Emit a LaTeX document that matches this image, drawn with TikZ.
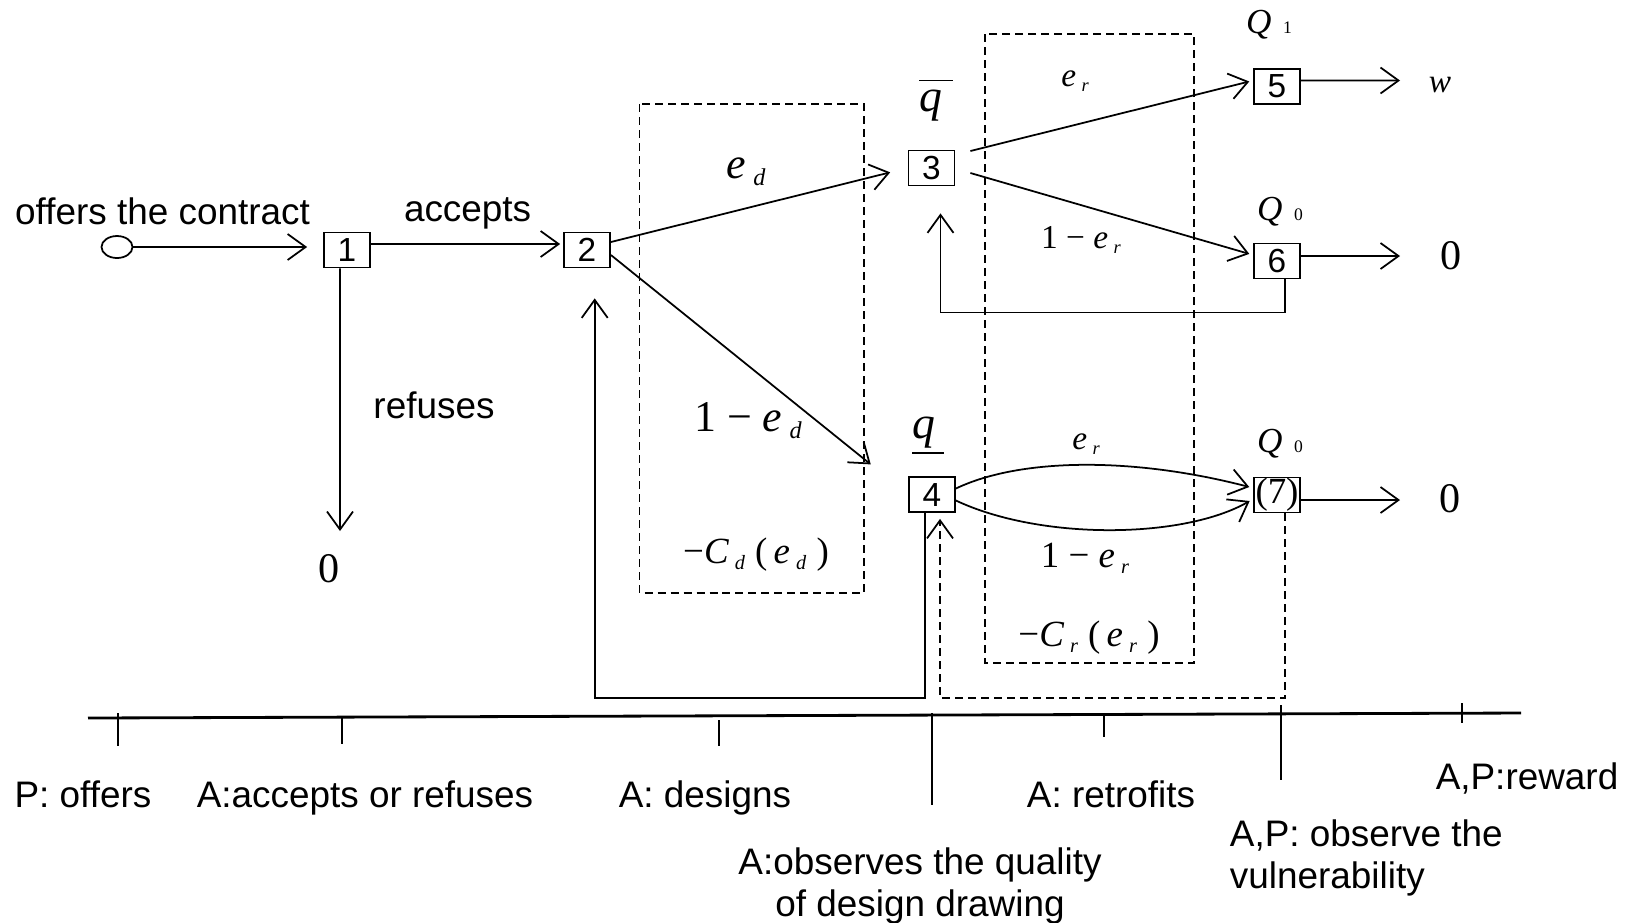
\documentclass[tikz,border=0pt]{standalone}
\usepackage{fontspec}
\setmainfont{Liberation Sans}
\newfontfamily\tms{Liberation Serif}
\usetikzlibrary{arrows.meta,shapes.geometric,positioning,calc}

\newcommand{\mi}[1]{{\tms\itshape #1}}
\newcommand{\up}[1]{{\tms #1}}
\newcommand{\lo}[1]{\raisebox{-0.3ex}{\scalebox{0.55}{#1}}}
\newcommand{\sm}[1]{\scalebox{0.5}{#1}}

\tikzset{
  stage/.style={draw, rectangle, minimum width=4.6mm, minimum height=3.5mm,
    inner sep=0pt, font=\fontsize{9.5}{9.5}\selectfont},
  lbl/.style={inner sep=0pt, font=\fontsize{10.5}{12}\selectfont},
  frm/.style={dash pattern=on 0.8mm off 0.5mm},
  >={Straight Barb[length=1.8mm,width=2.6mm]}
}

\begin{document}
\begin{tikzpicture}[x=0.1mm, y=-0.1mm, line width=0.5pt]
  \useasboundingbox (0,0) rectangle (1633,922);

  % stages
  \node[draw, ellipse, minimum width=3.1mm, minimum height=2.2mm, inner sep=0pt] (start) at (117,247) {};
  \node[stage] (n1) at (347,250) {1};
  \node[stage] (n2) at (587,250) {2};
  \node[stage] (n3) at (931.5,168) {3};
  \node[stage] (n4) at (932,494.5) {4};
  \node[stage] (n5) at (1277,86.5) {5};
  \node[stage] (n6) at (1277,261) {6};
  \node[stage, font=\tms\fontsize{10.5}{10.5}\selectfont] (n7) at (1277,495) {(7)};

  % effort frames
  \draw[frm] (639.5,104) rectangle (864,593);
  \draw[frm] (985,34) rectangle (1194,663);

  % labels
  \node[lbl, anchor=base] (offer) at (162.5,224) {offers the contract};
  \node[lbl, anchor=base] (acc) at (467.6,221) {accepts};
  \node[lbl, anchor=base] (ref) at (434,418) {refuses};
  \node[lbl, font=\tms\fontsize{12}{12}\selectfont] (z1) at (329,569) {0};
  \node[lbl, font=\fontsize{12.5}{14}\selectfont] (ed) at (746,172) {\mi{e}\,\lo{\mi{d}}};
  \node[lbl, font=\fontsize{12.5}{14}\selectfont] (ned) at (748,421) {\up{1 − }\mi{e}\,\lo{\mi{d}}};
  \node[lbl, font=\fontsize{10.5}{12}\selectfont] (cd) at (756,555)
    {\up{−}\mi{C}\,\lo{\mi{d}}\;\up{(}\,\mi{e}\,\lo{\mi{d}}\;\up{)}};
  \node[lbl, font=\fontsize{13}{14}\selectfont] (qh) at (936,100)
    {$\overline{\vphantom{t}\hbox{\mi{q}\kern3pt}}$};
  \node[lbl, font=\fontsize{13}{14}\selectfont] (ql) at (928,436)
    {$\underline{\hbox{\mi{q}\kern2.5pt}}$};
  \node[lbl, font=\fontsize{10}{10}\selectfont] (q1) at (1269,25) {\mi{Q}\,\,\sm{\up{1}}};
  \node[lbl, font=\fontsize{10}{10}\selectfont] (q0a) at (1280,212) {\mi{Q}\,\,\sm{\up{0}}};
  \node[lbl, font=\fontsize{10}{10}\selectfont] (q0b) at (1280,444) {\mi{Q}\,\,\sm{\up{0}}};
  \node[lbl, font=\fontsize{9.5}{10}\selectfont] (er1) at (1075,81) {\mi{e}\,\lo{\mi{r}}};
  \node[lbl, font=\fontsize{9.5}{10}\selectfont] (ner1) at (1081,240) {\up{1 − }\mi{e}\,\lo{\mi{r}}};
  \node[lbl, font=\fontsize{9.5}{10}\selectfont] (er2) at (1086,444) {\mi{e}\,\lo{\mi{r}}};
  \node[lbl, font=\fontsize{10.5}{12}\selectfont] (ner2) at (1085,558) {\up{1 − }\mi{e}\,\lo{\mi{r}}};
  \node[lbl, font=\fontsize{10.5}{12}\selectfont] (cr) at (1089,638)
    {\up{−}\mi{C}\,\lo{\mi{r}}\;\up{(}\,\mi{e}\,\lo{\mi{r}}\;\up{)}};
  \node[lbl, font=\fontsize{9.5}{10}\selectfont] (w) at (1440,85) {\mi{w}};
  \node[lbl, font=\tms\fontsize{12}{12}\selectfont] (z6) at (1451,256) {0};
  \node[lbl, font=\tms\fontsize{12}{12}\selectfont] (z7) at (1450,499) {0};

  \coordinate (r0) at (340,531);
  \coordinate (e5) at (1400,80.5);
  \coordinate (e6) at (1400,256);
  \coordinate (e7) at (1400,500);
  \coordinate (fb3) at (940.5,312.5);
  \coordinate (fb2) at (594.7,698);
  \coordinate (fb4) at (940,698);

  % moves
  \draw[->, shorten >=1.6mm] (start) -- (start -| n1.west);
  \draw[->, shorten >=0.3mm] ([yshift=0.6mm]n1.east) -- ([yshift=0.6mm]n2.west);
  \draw[->] ([xshift=-0.7mm]n1.south) -- (r0);
  \draw[->, shorten >=1.8mm] ([yshift=0.8mm]n2.east) -- (n3.west);
  \draw[->, shorten >=4.8mm] ([yshift=-0.5mm]n2.east) -- (n4.west);
  \draw[->, shorten >=0.4mm] ([xshift=1.5mm,yshift=1.7mm]n3.east) -- ([yshift=0.6mm]n5.west);
  \draw[->, shorten >=0.4mm] ([xshift=1.5mm,yshift=-0.5mm]n3.east) -- ([yshift=0.6mm]n6.west);
  \draw[->, shorten >=0.4mm] ([yshift=0.6mm]n4.east) .. controls +(65,-31) and +(-119,-31) .. ([yshift=0.7mm]n7.west);
  \draw[->, shorten >=0.4mm] ([yshift=-0.6mm]n4.east) .. controls +(85,40) and +(-70,40) .. ([yshift=-0.4mm]n7.west);
  \draw[->] ([yshift=0.6mm]n5.east) -- (e5);
  \draw[->] ([yshift=0.5mm]n6.east) -- (e6);
  \draw[->] ([yshift=-0.5mm]n7.east) -- (e7);

  % going back
  \draw[->, shorten >=2.7mm] ([xshift=0.8mm]n6.south) |- (fb3) -- (fb3 |- n3.south);
  \draw[->, shorten >=3mm] ([xshift=-0.7mm]n4.south) |- (fb2) -- (fb2 |- n2.south);
  \draw[->, frm, shorten >=0.6mm] ([xshift=0.8mm]n7.south) |- (fb4) -- (fb4 |- n4.south);

  % time line
  \draw[line width=0.8pt] (88,718) -- (1521,713);
  \foreach \x/\a/\b in {118/713/746, 342/717/744, 719/720/746, 932/713/805,
                        1104/715/737, 1281/705/780, 1462/703/723}
    \draw (\x,\a) -- (\x,\b);

  \node[lbl, anchor=base] (t1) at (83,807) {P: offers};
  \node[lbl, anchor=base] (t2) at (365,807) {A:accepts or refuses};
  \node[lbl, anchor=base] (t3) at (705,807) {A: designs};
  \node[lbl, anchor=base] (t4) at (1111,807) {A: retrofits};
  \node[lbl, anchor=base] (t5) at (1527,789) {A,P:reward};
  \node[lbl, align=center, anchor=north, font=\fontsize{10.5}{12}\selectfont] (t6) at (920,847)
    {A:observes the quality\\of design drawing};
  \node[lbl, align=left, anchor=north west, font=\fontsize{10.5}{12}\selectfont] (t7) at (1229,819)
    {A,P: observe the\\vulnerability};
\end{tikzpicture}
\end{document}
